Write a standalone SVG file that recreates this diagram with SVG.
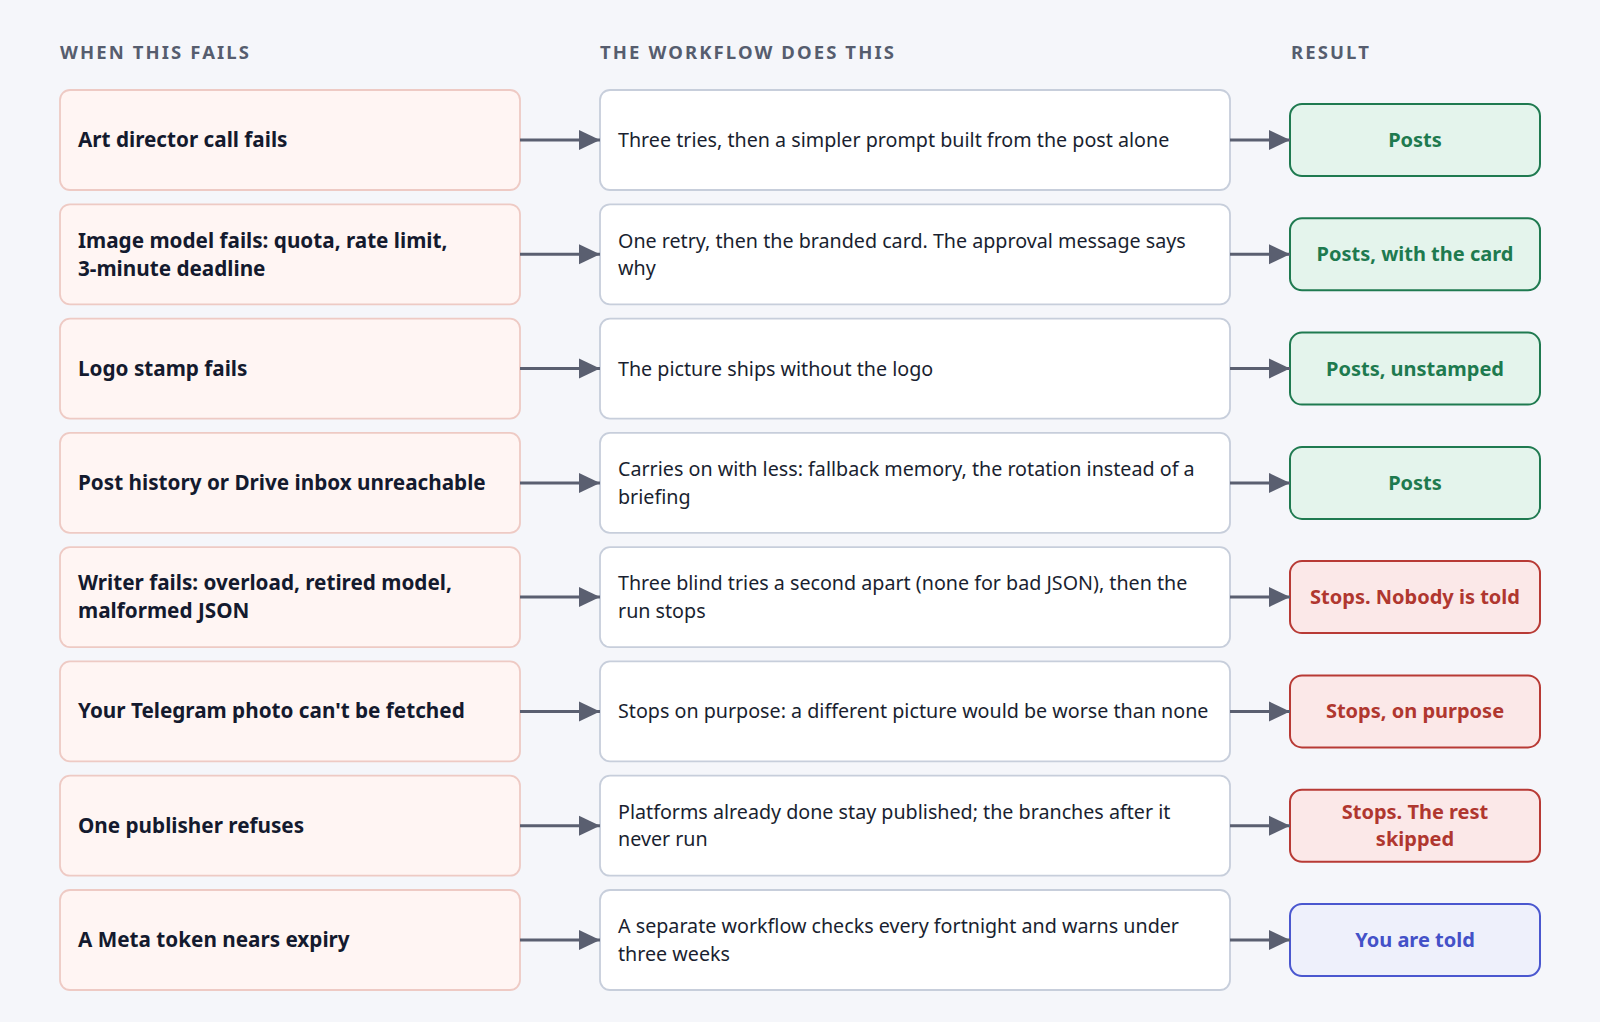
<svg xmlns="http://www.w3.org/2000/svg" width="1600" height="1022" viewBox="0 0 1600 1022">
<style>
.hdr{font-family:"Noto Sans","Open Sans",sans-serif;font-size:18.5px;font-weight:700;fill:#565d6e;letter-spacing:2.1px}
.fail rect{fill:#fff5f3;stroke:#eecac4;stroke-width:1.8}
.fail text{font-family:"Noto Sans","Open Sans",sans-serif;font-size:20.7px;font-weight:700;fill:#141a2e}
.act rect{fill:#ffffff;stroke:#c7cedb;stroke-width:1.8}
.act text{font-family:"Noto Sans","Open Sans",sans-serif;font-size:19.7px;fill:#1a1f30}
.res text{font-family:"Noto Sans","Open Sans",sans-serif;font-size:20px;font-weight:700;text-anchor:middle}
.ok rect{fill:#e4f4ec;stroke:#1f7a50;stroke-width:2}
.ok text{fill:#1e7a4f}
.stop rect{fill:#fbe8e8;stroke:#b83a35;stroke-width:2}
.stop text{fill:#b0372f}
.told rect{fill:#eef0fb;stroke:#4a57cf;stroke-width:2}
.told text{fill:#4451c8}
.conn line{stroke:#5a5f70;stroke-width:3}
</style>
<defs>
<marker id="ah" markerUnits="userSpaceOnUse" markerWidth="22" markerHeight="22" refX="21" refY="10" orient="auto" viewBox="0 0 22 20">
<path d="M0,0 L21,10 L0,20 Z" fill="#5a5f70"/>
</marker>
</defs>
<rect width="1600" height="1022" fill="#f5f6fa"/>
<text class="hdr" x="60" y="59">WHEN THIS FAILS</text>
<text class="hdr" x="600" y="59">THE WORKFLOW DOES THIS</text>
<text class="hdr" x="1291" y="59">RESULT</text>

<g id="fail1" class="fail"><rect x="60" y="90" width="460" height="100" rx="10"/><text x="78" y="147">Art director call fails</text></g>
<g id="fail2" class="fail"><rect x="60" y="204.3" width="460" height="100" rx="10"/><text x="78" y="247.5">Image model fails: quota, rate limit,</text><text x="78" y="275.5">3-minute deadline</text></g>
<g id="fail3" class="fail"><rect x="60" y="318.6" width="460" height="100" rx="10"/><text x="78" y="375.6">Logo stamp fails</text></g>
<g id="fail4" class="fail"><rect x="60" y="432.9" width="460" height="100" rx="10"/><text x="78" y="489.9">Post history or Drive inbox unreachable</text></g>
<g id="fail5" class="fail"><rect x="60" y="547.1" width="460" height="100" rx="10"/><text x="78" y="590.3">Writer fails: overload, retired model,</text><text x="78" y="618.3">malformed JSON</text></g>
<g id="fail6" class="fail"><rect x="60" y="661.4" width="460" height="100" rx="10"/><text x="78" y="718.4">Your Telegram photo can't be fetched</text></g>
<g id="fail7" class="fail"><rect x="60" y="775.7" width="460" height="100" rx="10"/><text x="78" y="832.7">One publisher refuses</text></g>
<g id="fail8" class="fail"><rect x="60" y="890" width="460" height="100" rx="10"/><text x="78" y="947">A Meta token nears expiry</text></g>

<g id="act1" class="act"><rect x="600" y="90" width="630" height="100" rx="10"/><text x="618" y="147">Three tries, then a simpler prompt built from the post alone</text></g>
<g id="act2" class="act"><rect x="600" y="204.3" width="630" height="100" rx="10"/><text x="618" y="247.5">One retry, then the branded card. The approval message says</text><text x="618" y="275">why</text></g>
<g id="act3" class="act"><rect x="600" y="318.6" width="630" height="100" rx="10"/><text x="618" y="375.6">The picture ships without the logo</text></g>
<g id="act4" class="act"><rect x="600" y="432.9" width="630" height="100" rx="10"/><text x="618" y="476.1">Carries on with less: fallback memory, the rotation instead of a</text><text x="618" y="503.6">briefing</text></g>
<g id="act5" class="act"><rect x="600" y="547.1" width="630" height="100" rx="10"/><text x="618" y="590.3">Three blind tries a second apart (none for bad JSON), then the</text><text x="618" y="617.8">run stops</text></g>
<g id="act6" class="act"><rect x="600" y="661.4" width="630" height="100" rx="10"/><text x="618" y="718.4">Stops on purpose: a different picture would be worse than none</text></g>
<g id="act7" class="act"><rect x="600" y="775.7" width="630" height="100" rx="10"/><text x="618" y="818.9">Platforms already done stay published; the branches after it</text><text x="618" y="846.4">never run</text></g>
<g id="act8" class="act"><rect x="600" y="890" width="630" height="100" rx="10"/><text x="618" y="933.2">A separate workflow checks every fortnight and warns under</text><text x="618" y="960.7">three weeks</text></g>

<g id="res1" class="res ok"><rect x="1290" y="104" width="250" height="72" rx="12"/><text x="1415" y="147">Posts</text></g>
<g id="res2" class="res ok"><rect x="1290" y="218.3" width="250" height="72" rx="12"/><text x="1415" y="261.3">Posts, with the card</text></g>
<g id="res3" class="res ok"><rect x="1290" y="332.6" width="250" height="72" rx="12"/><text x="1415" y="375.6">Posts, unstamped</text></g>
<g id="res4" class="res ok"><rect x="1290" y="446.9" width="250" height="72" rx="12"/><text x="1415" y="489.9">Posts</text></g>
<g id="res5" class="res stop"><rect x="1290" y="561.1" width="250" height="72" rx="12"/><text x="1415" y="604.1">Stops. Nobody is told</text></g>
<g id="res6" class="res stop"><rect x="1290" y="675.4" width="250" height="72" rx="12"/><text x="1415" y="718.4">Stops, on purpose</text></g>
<g id="res7" class="res stop"><rect x="1290" y="789.7" width="250" height="72" rx="12"/><text x="1415" y="818.9">Stops. The rest</text><text x="1415" y="846.4">skipped</text></g>
<g id="res8" class="res told"><rect x="1290" y="904" width="250" height="72" rx="12"/><text x="1415" y="947">You are told</text></g>

<g id="connectors" class="conn">
<line x1="520" y1="140" x2="600" y2="140" marker-end="url(#ah)"/>
<line x1="520" y1="254.3" x2="600" y2="254.3" marker-end="url(#ah)"/>
<line x1="520" y1="368.6" x2="600" y2="368.6" marker-end="url(#ah)"/>
<line x1="520" y1="482.9" x2="600" y2="482.9" marker-end="url(#ah)"/>
<line x1="520" y1="597.1" x2="600" y2="597.1" marker-end="url(#ah)"/>
<line x1="520" y1="711.4" x2="600" y2="711.4" marker-end="url(#ah)"/>
<line x1="520" y1="825.7" x2="600" y2="825.7" marker-end="url(#ah)"/>
<line x1="520" y1="940" x2="600" y2="940" marker-end="url(#ah)"/>
<line x1="1230" y1="140" x2="1290" y2="140" marker-end="url(#ah)"/>
<line x1="1230" y1="254.3" x2="1290" y2="254.3" marker-end="url(#ah)"/>
<line x1="1230" y1="368.6" x2="1290" y2="368.6" marker-end="url(#ah)"/>
<line x1="1230" y1="482.9" x2="1290" y2="482.9" marker-end="url(#ah)"/>
<line x1="1230" y1="597.1" x2="1290" y2="597.1" marker-end="url(#ah)"/>
<line x1="1230" y1="711.4" x2="1290" y2="711.4" marker-end="url(#ah)"/>
<line x1="1230" y1="825.7" x2="1290" y2="825.7" marker-end="url(#ah)"/>
<line x1="1230" y1="940" x2="1290" y2="940" marker-end="url(#ah)"/>
</g>
</svg>
